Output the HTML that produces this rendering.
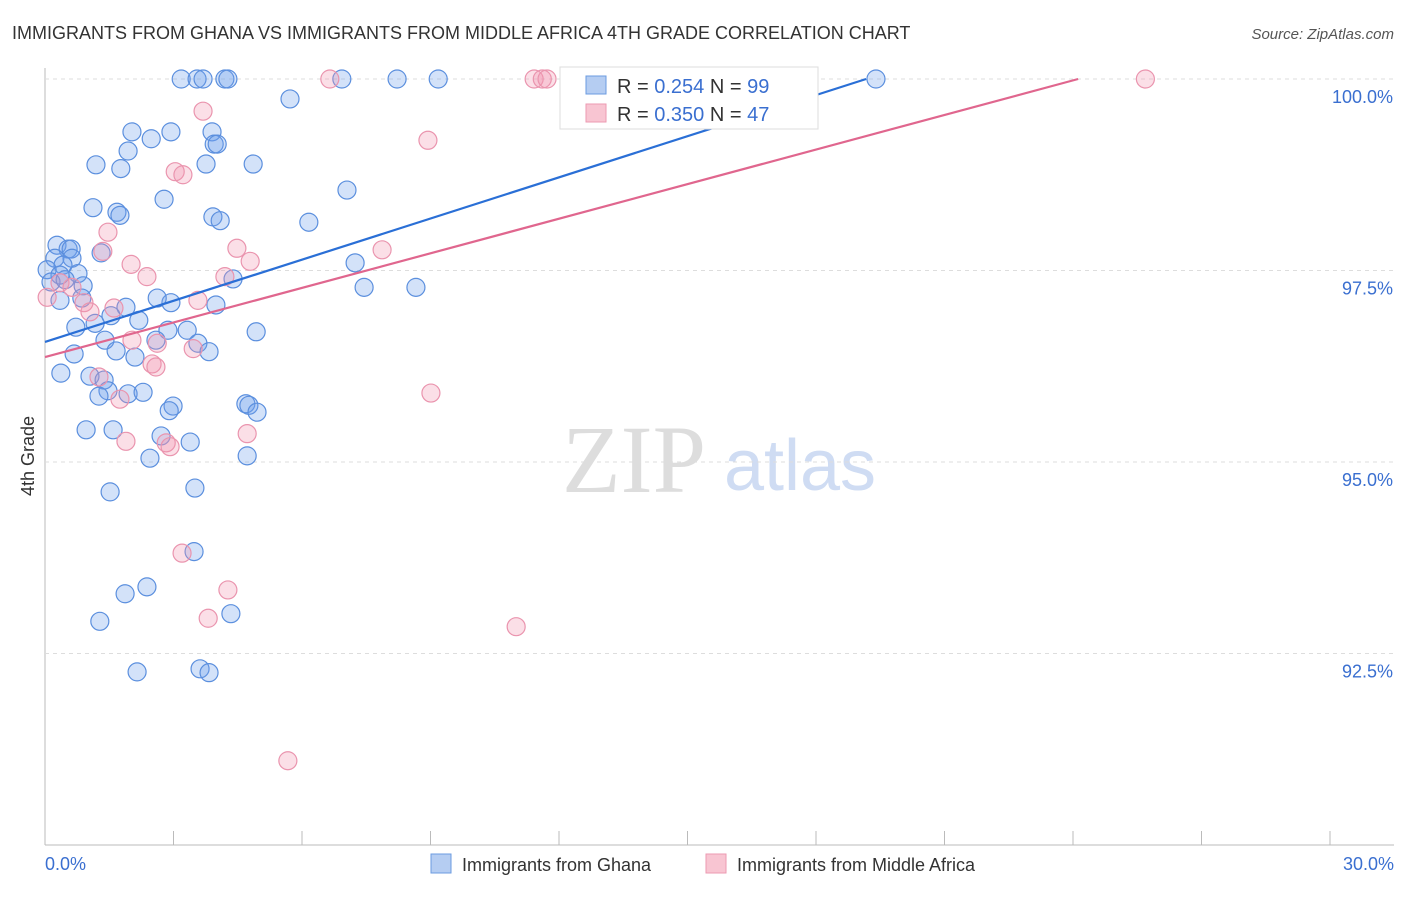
<!DOCTYPE html>
<html><head><meta charset="utf-8"><style>
body{margin:0;background:#fff;font-family:"Liberation Sans",sans-serif;}
</style></head><body>
<svg width="1406" height="892" xmlns="http://www.w3.org/2000/svg" id="chart" style="font-family:'Liberation Sans',sans-serif">
<text x="12" y="39" font-size="18" fill="#333">IMMIGRANTS FROM GHANA VS IMMIGRANTS FROM MIDDLE AFRICA 4TH GRADE CORRELATION CHART</text>
<text x="1394" y="39" font-size="15" fill="#555" text-anchor="end" font-style="italic">Source: ZipAtlas.com</text>
<text x="634" y="492" font-size="96" fill="#ddd" font-family="Liberation Serif,serif" text-anchor="middle">ZIP</text>
<text x="800" y="490" font-size="72" fill="#cfdcf3" text-anchor="middle">atlas</text>
<g id="grid"></g><g id="pts"></g><g id="lines"></g>
<text transform="translate(34,456) rotate(-90)" font-size="18" fill="#333" text-anchor="middle">4th Grade</text>
<text x="45" y="870" font-size="18" fill="#3a6fd0">0.0%</text>
<text x="1394" y="870" font-size="18" fill="#3a6fd0" text-anchor="end">30.0%</text>
<g>
<rect x="560" y="67" width="258" height="62" fill="#fff" stroke="#ddd"/>
<rect x="586" y="76" width="20" height="18" fill="#b5cdf2" stroke="#6b9be0"/>
<rect x="586" y="104" width="20" height="18" fill="#f8c5d2" stroke="#ec9ab2"/>
<text x="617" y="93" font-size="20" fill="#333">R = <tspan fill="#3a6fd0">0.254</tspan>   N = <tspan fill="#3a6fd0">99</tspan></text>
<text x="617" y="121" font-size="20" fill="#333">R = <tspan fill="#3a6fd0">0.350</tspan>   N = <tspan fill="#3a6fd0">47</tspan></text>
</g>
<g><rect x="431" y="854" width="20" height="19" fill="#b5cdf2" stroke="#6b9be0"/><text x="462" y="871" font-size="18" fill="#333">Immigrants from Ghana</text></g>
<g><rect x="706" y="854" width="20" height="19" fill="#f8c5d2" stroke="#ec9ab2"/><text x="737" y="871" font-size="18" fill="#333">Immigrants from Middle Africa</text></g>
</svg>
<script>
const yTicks=[100,97.5,95,92.5];
const yTickLabels=["100.0%","97.5%","95.0%","92.5%"];
const blueX=[3.18,3.55,3.69,4.20,4.27,6.93,8.22,9.18,19.40,5.72,2.03,2.94,3.90,2.48,1.94,3.95,4.02,1.19,1.77,3.76,4.86,2.78,7.05,1.12,1.68,1.75,3.92,4.09,6.16,0.28,0.54,0.61,1.31,0.63,0.23,0.42,0.77,0.05,0.35,0.14,0.89,0.47,7.24,7.45,8.66,4.39,0.86,0.35,2.94,2.62,3.99,1.89,1.54,1.17,0.72,2.19,2.87,3.32,4.93,1.40,2.59,3.57,3.83,0.68,1.66,2.10,0.37,1.05,1.38,1.47,1.26,1.94,2.29,2.99,2.90,4.69,4.76,4.95,0.96,1.59,2.71,3.39,2.45,4.72,1.52,3.50,3.48,2.38,1.87,1.28,4.34,2.15,3.62,3.83];
const blueY=[100,100,100,100,100,100,100,100,100,99.74,99.31,99.31,99.31,99.22,99.06,99.15,99.15,98.88,98.83,98.89,98.89,98.43,98.55,98.32,98.26,98.22,98.20,98.15,98.13,97.83,97.78,97.78,97.73,97.66,97.66,97.57,97.46,97.51,97.44,97.35,97.30,97.38,97.60,97.28,97.28,97.39,97.14,97.11,97.08,97.14,97.05,97.02,96.91,96.81,96.76,96.85,96.72,96.72,96.70,96.59,96.59,96.55,96.44,96.41,96.45,96.37,96.16,96.12,96.07,95.93,95.86,95.89,95.91,95.73,95.67,95.76,95.74,95.65,95.42,95.42,95.34,95.26,95.05,95.08,94.61,94.66,93.83,93.37,93.28,92.92,93.02,92.26,92.30,92.25];
const pinkX=[6.65,11.42,11.61,11.72,25.69,3.69,8.94,3.04,3.22,1.47,1.35,7.87,4.48,4.79,2.01,2.38,4.20,0.35,0.05,0.63,0.91,1.05,1.61,3.57,2.62,2.03,1.26,3.46,2.50,2.59,9.01,1.75,1.89,2.83,2.92,4.72,3.20,4.27,3.81,11.00,5.67];
const pinkY=[100,100,100,100,100,99.58,99.20,98.79,98.75,98.00,97.75,97.77,97.79,97.62,97.58,97.42,97.42,97.34,97.15,97.28,97.08,96.96,97.01,97.11,96.55,96.59,96.11,96.48,96.28,96.24,95.90,95.82,95.27,95.25,95.20,95.37,93.81,93.33,92.96,92.85,91.10];
const blueTrend=[96.567,100,19.17];
const pinkTrend=[96.37,100,24.12];
const NS="http://www.w3.org/2000/svg";
const X=v=>45+v/30*1285, Y=v=>845-(v-90)*76.6;
function mk(t,a,p){const e=document.createElementNS(NS,t);for(const k in a)e.setAttribute(k,a[k]);p.appendChild(e);return e;}
const g=document.getElementById('grid');
mk('line',{x1:45,y1:68,x2:45,y2:845,stroke:'#bbb'},g);
mk('line',{x1:45,y1:845,x2:1394,y2:845,stroke:'#bbb'},g);
for(let i=0;i<=10;i++){const l=mk('line',{x1:X(i*3),y1:845,x2:X(i*3),y2:831,stroke:'#bbb'},g);}
yTicks.forEach((t,i)=>{const l=mk('line',{x1:45,y1:Y(t),x2:1394,y2:Y(t),stroke:'#ddd','stroke-dasharray':'4,4'},g);


const tx=mk('text',{x:1393,y:Y(t)+24,'font-size':18,fill:'#3a6fd0','text-anchor':'end'},g);tx.textContent=yTickLabels[i];

});
const p=document.getElementById('pts');
blueX.forEach((x,i)=>{const c=mk('circle',{cx:X(x),cy:Y(blueY[i]),r:9,fill:'rgba(110,160,235,0.3)',stroke:'#5b8fde','stroke-width':1.2},p);

});
pinkX.forEach((x,i)=>{const c=mk('circle',{cx:X(x),cy:Y(pinkY[i]),r:9,fill:'rgba(242,150,175,0.3)',stroke:'#ea94ae','stroke-width':1.2},p);

});
const L=document.getElementById('lines');
const b=mk('line',{x1:X(0),y1:Y(blueTrend[0]),x2:X(blueTrend[2]),y2:Y(blueTrend[1]),stroke:'#2a6fd6','stroke-width':2.2},L);


const q=mk('line',{x1:X(0),y1:Y(pinkTrend[0]),x2:X(pinkTrend[2]),y2:Y(pinkTrend[1]),stroke:'#e0668e','stroke-width':2.2},L);


</script>
</body></html>
